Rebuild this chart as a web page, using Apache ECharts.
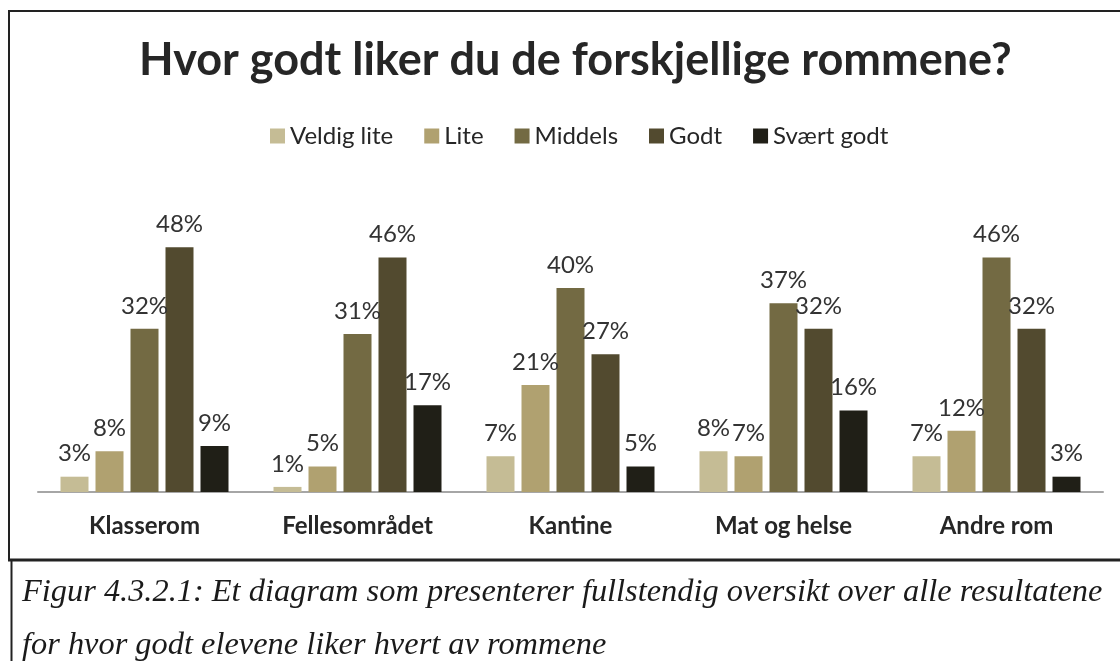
<!DOCTYPE html>
<html>
<head>
<meta charset="utf-8">
<script src="https://cdn.jsdelivr.net/npm/echarts@6/dist/echarts.min.js"></script>
<style>
  html, body { margin: 0; padding: 0; background: #fff; }
  #chart { width: 1120px; height: 661px; }
</style>
</head>
<body>
<div id="chart"></div>
<script>
// Rooms and answer shares (percent)
const rooms = ['Klasserom', 'Fellesområdet', 'Kantine', 'Mat og helse', 'Andre rom'];
const veldigLite = [3, 1, 7, 8, 7];
const lite       = [8, 5, 21, 7, 12];
const middels    = [32, 31, 40, 37, 46];
const godt       = [48, 46, 27, 32, 32];
const svaertGodt = [9, 17, 5, 16, 3];

const seriesNames = ['Veldig lite', 'Lite', 'Middels', 'Godt', 'Svært godt'];
const seriesData = [veldigLite, lite, middels, godt, svaertGodt];
const colors = ['#c5bc95', '#b0a170', '#736a43', '#524a2f', '#201f17'];

const titleText = 'Hvor godt liker du de forskjellige rommene?';
const captionLines = [
  'Figur 4.3.2.1: Et diagram som presenterer fullstendig oversikt over alle resultatene',
  'for hvor godt elevene liker hvert av rommene'
];

const chart = echarts.init(document.getElementById('chart'));

const series = seriesNames.map((name, i) => ({
  name: name,
  type: 'bar',
  data: seriesData[i],
  barWidth: 28,
  barGap: '25%',
  itemStyle: { color: colors[i] },
  label: {
    show: true,
    position: 'top',
    distance: 11,
    formatter: '{c}%',
    fontFamily: 'Lato',
    fontSize: 24,
    color: '#333333'
  }
}));

chart.setOption({
  backgroundColor: '#ffffff',
  color: colors,
  animation: false,
  title: {
    text: titleText,
    left: 134,
    top: 33,
    textStyle: { fontFamily: 'Lato', fontWeight: 'bold', fontSize: 45, color: '#262626' }
  },
  legend: {
    data: seriesNames,
    top: 119,
    left: 265,
    itemWidth: 15,
    itemHeight: 15,
    itemGap: 31,
    icon: 'rect',
    textStyle: { fontFamily: 'Lato', fontSize: 24, color: '#262626' }
  },
  grid: { left: 38, right: 17, top: 237, bottom: 169 },
  xAxis: {
    type: 'category',
    data: rooms,
    axisLine: { lineStyle: { color: '#a6a6a6', width: 2 } },
    axisTick: { show: false },
    axisLabel: { margin: 22, fontFamily: 'Lato', fontWeight: 'bold', fontSize: 24, color: '#262626' }
  },
  yAxis: {
    type: 'value',
    min: 0,
    max: 50,
    show: false
  },
  series: series,
  graphic: [
    // frame round the chart
    { type: 'line', shape: { x1: 8, y1: 11, x2: 1120, y2: 11 }, style: { stroke: '#222', lineWidth: 2 } },
    { type: 'line', shape: { x1: 9, y1: 10, x2: 9, y2: 560 }, style: { stroke: '#222', lineWidth: 2 } },
    { type: 'line', shape: { x1: 8, y1: 560, x2: 1120, y2: 560 }, style: { stroke: '#222', lineWidth: 3 } },
    // caption box
    { type: 'line', shape: { x1: 11.5, y1: 560, x2: 11.5, y2: 661 }, style: { stroke: '#222', lineWidth: 2 } },
    {
      type: 'text', left: 22, top: 576,
      style: { text: captionLines[0], font: 'italic 32.4px "Liberation Serif"', fill: '#1a1a1a' }
    },
    {
      type: 'text', left: 22, top: 629,
      style: { text: captionLines[1], font: 'italic 32.4px "Liberation Serif"', fill: '#1a1a1a' }
    }
  ]
});
</script>
</body>
</html>
